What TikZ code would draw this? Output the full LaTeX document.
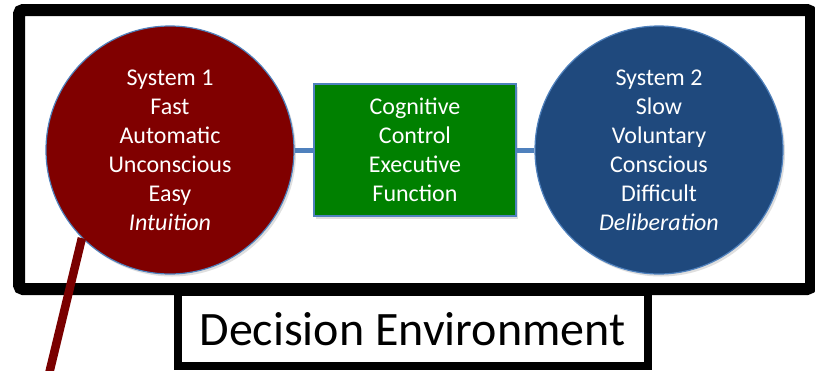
\documentclass[tikz,border=0pt]{standalone}
\usepackage{fontspec}
\setmainfont{Carlito}
\usetikzlibrary{shadows}
\definecolor{sysred}{HTML}{800000}
\definecolor{sysblue}{HTML}{1F497D}
\definecolor{ctrlgreen}{HTML}{008000}
\definecolor{edgeblue}{HTML}{4F81BD}
\definecolor{tailred}{HTML}{7A0000}
\begin{document}
\begin{tikzpicture}[x=1pt,y=-1pt,
  softshadow/.style={drop shadow={opacity=0.25, shadow xshift=2pt, shadow yshift=-2.5pt}},
  envframe/.style={draw=black, fill=white, line width=12pt, rounded corners=4pt,
    minimum width=792pt, minimum height=279pt, inner sep=0pt, softshadow},
  envlabel/.style={draw=black, fill=white, line width=8pt,
    minimum width=470pt, minimum height=74pt, inner sep=0pt,
    font=\fontsize{48}{52}\selectfont, softshadow},
  system/.style={circle, minimum size=248pt, inner sep=0pt, draw=edgeblue,
    line width=1.2pt, text=white, align=center,
    font=\fontsize{24}{29}\selectfont, softshadow},
  control/.style={rectangle, minimum width=202pt, minimum height=132pt,
    inner sep=0pt, draw=edgeblue, line width=1.2pt, fill=ctrlgreen,
    text=white, align=center, font=\fontsize{24}{29}\selectfont, softshadow},
  link/.style={draw=edgeblue, line width=5pt},
  tailline/.style={draw=tailred, line width=8.5pt}
]
\useasboundingbox (0,0) rectangle (815,370);

% outer decision-environment frame and its label tab
\node[envframe] (env) at (415,149.5) {};
\node[envlabel] (envtab) at (412.5,329) {Decision Environment};

% the two systems and the control box between them
\node[system, fill=sysred] (s1) at (170,150)
  {System 1\\Fast\\Automatic\\Unconscious\\Easy\\\textit{Intuition}};
\node[system, fill=sysblue] (s2) at (659,150)
  {System 2\\Slow\\Voluntary\\Conscious\\Difficult\\\textit{Deliberation}};
\node[control] (ctrl) at (415,150)
  {Cognitive\\Control\\Executive\\Function};

\draw[link] (s1) -- (ctrl);
\draw[link] (ctrl) -- (s2);

% stem running out of System 1
\coordinate (tail) at (48.5,376);
\draw[tailline] (s1.225) -- (tail);
\end{tikzpicture}
\end{document}
